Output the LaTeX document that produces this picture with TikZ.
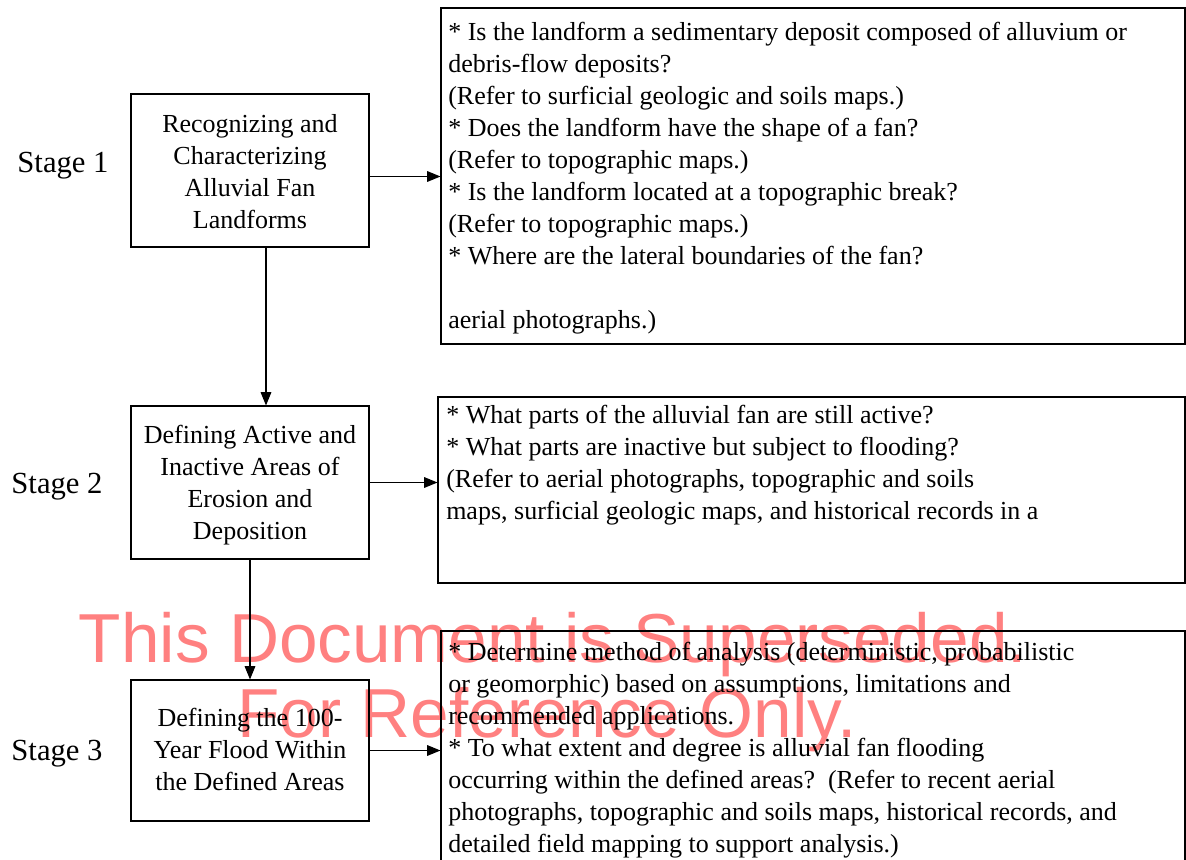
\documentclass[tikz,border=0pt]{standalone}
\usepackage{fontspec}
\setmainfont{Liberation Serif}
\newfontfamily\wmfont{Liberation Sans}
\usetikzlibrary{positioning,arrows.meta,calc,fit}
\definecolor{wmred}{RGB}{255,128,128}

\begin{document}
\begin{tikzpicture}[x=0.75pt, y=-0.75pt,
  box/.style={draw, line width=0.8pt, inner sep=0pt},
  stagetext/.style={align=center, inner sep=0pt,
    font=\fontsize{19.5}{24}\selectfont},
  qtext/.style={anchor=north west, inner sep=0pt, align=left,
    font=\fontsize{19.5}{24}\selectfont},
  stagelabel/.style={font=\fontsize{23}{28}\selectfont},
  arrow/.style={-{Triangle[length=10pt,width=8pt]}, line width=0.8pt},
  wm/.style={text=wmred, anchor=base, inner sep=0pt,
    font=\wmfont\fontsize{52}{56}\selectfont}
]
  \useasboundingbox (0,0) rectangle (1186,860);

  % watermark, behind everything
  \node[wm] (wm1) at (553,662) {This Document is Superseded.};
  \node[wm] (wm2) at (547,737) {For Reference Only.};

  % stage boxes
  \node[box, fit={(131,94) (369,247)}] (s1) {};
  \node[box, fit={(131,406) (369,559)}] (s2) {};
  \node[box, fit={(131,680) (369,821)}] (s3) {};
  \node[stagetext] (s1t) at ($(s1.center)+(0,1)$)
    {Recognizing and\\ Characterizing\\ Alluvial Fan\\ Landforms};
  \node[stagetext] (s2t) at ($(s2.center)+(0,3)$)
    {Defining Active and\\ Inactive Areas of\\ Erosion and\\ Deposition};
  \node[stagetext] (s3t) at ($(s3.center)+(0,-1)$)
    {Defining the 100-\\ Year Flood Within\\ the Defined Areas};

  \node[stagelabel] (l1) at (63,166) {Stage 1};
  \node[stagelabel] (l2) at (57,487) {Stage 2};
  \node[stagelabel] (l3) at (57,754) {Stage 3};

  % question boxes
  \node[box, fit={(441,8) (1185,344)}] (q1) {};
  \node[box, fit={(438,397) (1185,583)}] (q2) {};
  \node[box, fit={(441,631) (1185,880)}] (q3) {};

  \node[qtext] (q1t) at (448,22) {* Is the landform a sedimentary deposit composed of alluvium or\\
    debris-flow deposits?\\
    (Refer to surficial geologic and soils maps.)\\
    * Does the landform have the shape of a fan?\\
    (Refer to topographic maps.)\\
    * Is the landform located at a topographic break?\\
    (Refer to topographic maps.)\\
    * Where are the lateral boundaries of the fan?\\
    \mbox{}\\
    aerial photographs.)};
  \node[qtext] (q2t) at (446,405) {* What parts of the alluvial fan are still active?\\
    * What parts are inactive but subject to flooding?\\
    (Refer to aerial photographs, topographic and soils\\
    maps, surficial geologic maps, and historical records in a};
  \node[qtext] (q3t) at (448,642) {* Determine method of analysis (deterministic, probabilistic\\
    or geomorphic) based on assumptions, limitations and\\
    recommended applications.\\
    * To what extent and degree is alluvial fan flooding\\
    occurring within the defined areas?~~(Refer to recent aerial\\
    photographs, topographic and soils maps, historical records, and\\
    detailed field mapping to support analysis.)};

  \draw[arrow] ($(s1.east)+(0,6)$) -- ($(s1.east -| q1.west)+(0,6)$);
  \draw[arrow] (s2.east) -- (s2.east -| q2.west);
  \draw[arrow] (s3.east) -- (s3.east -| q3.west);
  \draw[arrow] ($(s1.south)+(16,0)$) -- ($(s2.north)+(16,0)$);
  \draw[arrow] (s2.south) -- (s3.north);
\end{tikzpicture}
\end{document}
